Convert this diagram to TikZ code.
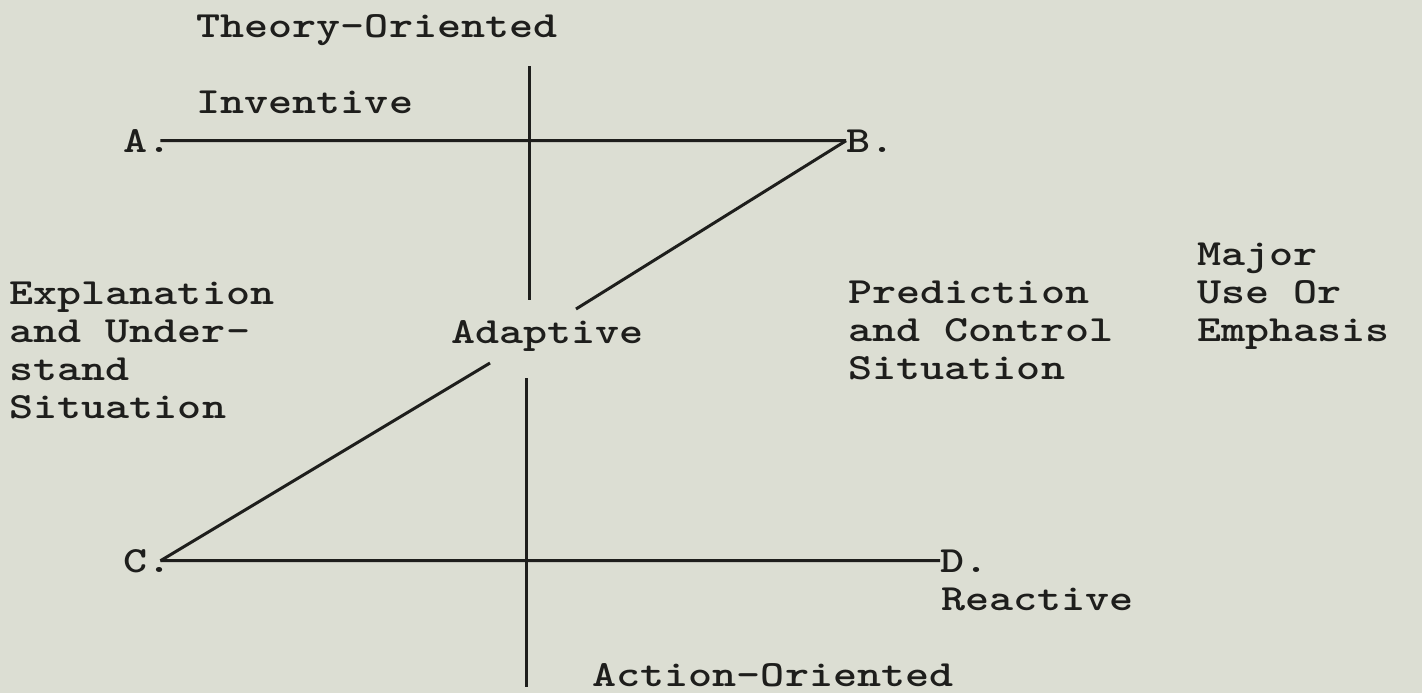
\documentclass[tikz,border=0pt]{standalone}
\usepackage{fontspec}
\newfontfamily\twfont[FakeStretch=1.24]{lmmonolt10-bold.otf}
\usetikzlibrary{positioning}
\definecolor{paper}{RGB}{220,222,211}
\definecolor{ink}{RGB}{30,30,28}
\begin{document}
\begin{tikzpicture}[x=0.01cm,y=-0.01cm,txt/.style={inner sep=0pt,anchor=base west,align=left,text=ink,font=\twfont\fontsize{10.5}{10.8}\selectfont},ln/.style={draw=ink,line width=0.85pt}]
\fill[paper] (0,0) rectangle (1422,693);
\useasboundingbox (0,0) rectangle (1422,693);
% labels
\node[txt] (theory) at (196,37) {Theory-Oriented};
\node[txt] (inventive) at (196,113) {Inventive};
\node[txt] (explain) at (9,418) {Explanation\\and Under-\\stand\\Situation};
\node[txt] (adaptive) at (451,343) {Adaptive};
\node[txt] (predict) at (848,379) {Prediction\\and Control\\Situation};
\node[txt] (major) at (1197,341) {Major\\Use Or\\Emphasis};
\node[txt] (reactive) at (941,610) {Reactive};
\node[txt] (action) at (592,686) {Action-Oriented};
% corners
\node[txt] (A) at (123,152) {A.};
\node[txt] (B) at (846,152) {B.};
\node[txt] (C) at (123,572) {C.};
\node[txt] (D) at (940,572) {D.};
\coordinate (thtop) at (529,66);\coordinate (thbot) at (529,300);
\coordinate (actop) at (526,378);\coordinate (acbot) at (526,687);
\coordinate (bfree) at (576,309);\coordinate (cfree) at (490,363);
\draw[ln](thtop)--(thbot);\draw[ln](actop)--(acbot);
\draw[ln]([xshift=-0.12cm]A.east)--(B.west);\draw[ln](B.west)--(bfree);
\draw[ln](cfree)--([xshift=-0.12cm]C.east);\draw[ln]([xshift=-0.12cm]C.east)--(D.west);
\end{tikzpicture}
\end{document}
